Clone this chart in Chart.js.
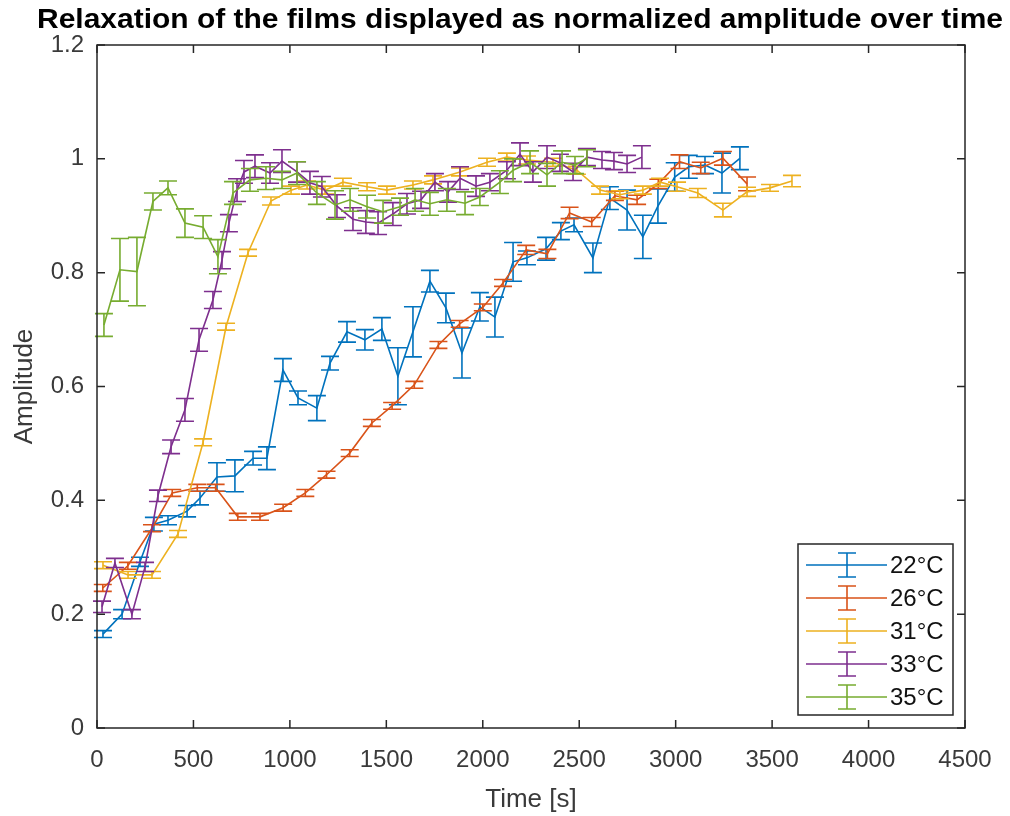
<!DOCTYPE html>
<html>
<head>
<meta charset="utf-8">
<title>Relaxation of the films</title>
<script src="https://cdn.jsdelivr.net/npm/chart.js@4.4.1/dist/chart.umd.min.js"></script>
<style>
    html, body { margin: 0; padding: 0; background: #fff; }
    #wrap { width: 1010px; height: 816px; }
</style>
</head>
<body>
<div id="wrap"><canvas id="relaxChart" width="1010" height="816"></canvas></div>
<script>
// -------------------------------------------------------------------------
// Data (time in s, normalized amplitude, error half-width)
// -------------------------------------------------------------------------
const seriesLabels = ['22°C', '26°C', '31°C', '33°C', '35°C'];
const seriesColors = ['#0072BD', '#D95319', '#EDB120', '#7E2F8E', '#77AC30'];

const t22 = [31, 130, 223, 295, 368, 467, 534, 622, 715, 809, 881, 964, 1042, 1140, 1208, 1296, 1389, 1477, 1560, 1638,
    1726, 1809, 1892, 1985, 2063, 2157, 2229, 2328, 2405, 2473, 2571, 2659, 2748, 2830, 2908, 2995, 3068, 3152, 3240, 3333];
const amp22 = [0.165, 0.200, 0.292, 0.358, 0.365, 0.381, 0.404, 0.441, 0.443, 0.474, 0.474, 0.629, 0.580, 0.562, 0.641, 0.696, 0.682, 0.701, 0.618, 0.696,
    0.785, 0.738, 0.659, 0.740, 0.722, 0.819, 0.826, 0.842, 0.873, 0.884, 0.826, 0.931, 0.910, 0.863, 0.917, 0.968, 0.986, 0.989, 0.975, 1.001];
const err22 = [0.006, 0.008, 0.008, 0.012, 0.008, 0.010, 0.012, 0.025, 0.028, 0.012, 0.020, 0.020, 0.012, 0.022, 0.012, 0.018, 0.018, 0.020, 0.050, 0.044,
    0.019, 0.026, 0.044, 0.025, 0.035, 0.034, 0.012, 0.020, 0.015, 0.012, 0.026, 0.020, 0.035, 0.038, 0.030, 0.025, 0.020, 0.015, 0.035, 0.020];

const t26 = [30, 160, 285, 390, 520, 615, 730, 845, 965, 1080, 1190, 1310, 1425, 1530, 1645, 1770, 1880, 2000, 2105, 2225,
    2335, 2450, 2565, 2685, 2800, 2910, 3020, 3130, 3245, 3370];
const amp26 = [0.246, 0.285, 0.351, 0.413, 0.422, 0.422, 0.371, 0.371, 0.387, 0.413, 0.445, 0.483, 0.536, 0.566, 0.603, 0.673, 0.710, 0.739, 0.782, 0.840,
    0.833, 0.905, 0.889, 0.935, 0.928, 0.956, 0.995, 0.984, 1.001, 0.956];
const err26 = [0.006, 0.006, 0.006, 0.006, 0.006, 0.006, 0.006, 0.006, 0.006, 0.006, 0.006, 0.006, 0.006, 0.006, 0.006, 0.006, 0.006, 0.006, 0.006, 0.008,
    0.008, 0.010, 0.008, 0.008, 0.008, 0.008, 0.012, 0.010, 0.012, 0.012];

const t31 = [31, 161, 285, 420, 550, 669, 783, 902, 1006, 1089, 1182, 1275, 1400, 1503, 1638, 1742, 1882, 2022, 2125, 2229,
    2364, 2488, 2608, 2711, 2830, 2919, 3007, 3115, 3245, 3370, 3489, 3603];
const amp31 = [0.286, 0.269, 0.269, 0.341, 0.502, 0.705, 0.835, 0.926, 0.945, 0.954, 0.945, 0.959, 0.951, 0.945, 0.954, 0.963, 0.977, 0.994, 1.003, 0.998,
    0.994, 0.980, 0.945, 0.937, 0.945, 0.959, 0.951, 0.940, 0.910, 0.942, 0.949, 0.961];
const err31 = [0.006, 0.006, 0.006, 0.006, 0.006, 0.006, 0.006, 0.007, 0.007, 0.007, 0.007, 0.007, 0.007, 0.007, 0.007, 0.007, 0.007, 0.007, 0.007, 0.007,
    0.007, 0.007, 0.007, 0.007, 0.007, 0.007, 0.008, 0.008, 0.012, 0.008, 0.006, 0.010];

const t33 = [26, 93, 181, 249, 316, 384, 456, 529, 601, 648, 684, 726, 762, 819, 897, 959, 1037, 1104, 1166, 1244,
    1327, 1394, 1457, 1534, 1607, 1680, 1752, 1820, 1882, 1965, 2037, 2125, 2193, 2260, 2333, 2400, 2468, 2540, 2618, 2680, 2748, 2825];
const amp33 = [0.213, 0.290, 0.200, 0.283, 0.408, 0.494, 0.559, 0.682, 0.752, 0.822, 0.887, 0.945, 0.977, 0.987, 0.975, 0.996, 0.977, 0.958, 0.951, 0.917,
    0.894, 0.889, 0.887, 0.903, 0.921, 0.928, 0.959, 0.942, 0.966, 0.952, 0.959, 0.980, 1.008, 0.977, 1.003, 0.993, 0.977, 1.003, 0.998, 0.996, 0.991, 1.003];
const err33 = [0.010, 0.008, 0.008, 0.008, 0.010, 0.012, 0.020, 0.020, 0.015, 0.015, 0.015, 0.020, 0.020, 0.020, 0.018, 0.020, 0.018, 0.020, 0.018, 0.020,
    0.020, 0.020, 0.020, 0.020, 0.018, 0.015, 0.015, 0.018, 0.020, 0.018, 0.015, 0.015, 0.020, 0.018, 0.020, 0.015, 0.015, 0.015, 0.015, 0.015, 0.015, 0.020];

const t35 = [36, 119, 207, 290, 368, 456, 550, 627, 705, 793, 876, 959, 1037, 1140, 1234, 1312, 1400, 1483, 1571, 1649,
    1726, 1814, 1908, 1985, 2089, 2157, 2245, 2333, 2411, 2478, 2540];
const amp35 = [0.708, 0.805, 0.802, 0.925, 0.949, 0.887, 0.880, 0.828, 0.940, 0.963, 0.966, 0.963, 0.975, 0.940, 0.919, 0.928, 0.916, 0.907, 0.916, 0.928,
    0.921, 0.928, 0.922, 0.933, 0.959, 0.980, 0.994, 0.972, 0.994, 0.989, 1.001];
const err35 = [0.020, 0.055, 0.060, 0.015, 0.012, 0.025, 0.020, 0.030, 0.020, 0.020, 0.020, 0.015, 0.020, 0.020, 0.025, 0.020, 0.020, 0.020, 0.015, 0.020,
    0.020, 0.020, 0.020, 0.015, 0.020, 0.020, 0.020, 0.020, 0.020, 0.015, 0.015];

const xTicks = [0, 500, 1000, 1500, 2000, 2500, 3000, 3500, 4000, 4500];
const xTickLabels = ['0', '500', '1000', '1500', '2000', '2500', '3000', '3500', '4000', '4500'];
const yTicks = [0, 0.2, 0.4, 0.6, 0.8, 1, 1.2];
const yTickLabels = ['0', '0.2', '0.4', '0.6', '0.8', '1', '1.2'];

const chartTitle = 'Relaxation of the films displayed as normalized amplitude over time';
const xLabel = 'Time [s]';
const yLabel = 'Amplitude';

// -------------------------------------------------------------------------
// Style
// -------------------------------------------------------------------------
const AXIS_COLOR = '#262626';
const TEXT_COLOR = '#3a3a3a';
const FONT = 'Liberation Sans, Arial, Helvetica, sans-serif';

const allT = [t22, t26, t31, t33, t35];
const allAmp = [amp22, amp26, amp31, amp33, amp35];
const allErr = [err22, err26, err31, err33, err35];

const datasets = seriesLabels.map((label, i) => ({
    label,
    data: allT[i].map((t, k) => ({ x: t, y: allAmp[i][k] })),
    errors: allErr[i],
    borderColor: seriesColors[i],
    borderWidth: 1.6,
    pointRadius: 0,
    tension: 0,
    fill: false,
    order: seriesLabels.length - i // later series on top, like MATLAB
}));

// -------------------------------------------------------------------------
// Plugins
// -------------------------------------------------------------------------
const errorBars = {
    id: 'errorBars',
    afterDatasetDraw(chart, args) {
        const ds = chart.data.datasets[args.index];
        const xs = chart.scales.x;
        const ys = chart.scales.y;
        const c = chart.ctx;
        const cap = 9;
        c.save();
        c.strokeStyle = ds.borderColor;
        c.lineWidth = 1.6;
        ds.data.forEach((p, k) => {
            const px = xs.getPixelForValue(p.x);
            const top = ys.getPixelForValue(p.y + ds.errors[k]);
            const bot = ys.getPixelForValue(p.y - ds.errors[k]);
            c.beginPath();
            c.moveTo(px, top); c.lineTo(px, bot);
            c.moveTo(px - cap, top); c.lineTo(px + cap, top);
            c.moveTo(px - cap, bot); c.lineTo(px + cap, bot);
            c.stroke();
        });
        c.restore();
    }
};

const axesBox = {
    id: 'axesBox',
    afterDraw(chart) {
        const { left, right, top, bottom } = chart.chartArea;
        const xs = chart.scales.x;
        const ys = chart.scales.y;
        const c = chart.ctx;
        const tl = 8;
        c.save();
        c.strokeStyle = AXIS_COLOR;
        c.lineWidth = 1.5;
        c.strokeRect(left, top, right - left, bottom - top);
        c.beginPath();
        xTicks.forEach(v => {
            const px = xs.getPixelForValue(v);
            c.moveTo(px, bottom); c.lineTo(px, bottom - tl);
            c.moveTo(px, top); c.lineTo(px, top + tl);
        });
        yTicks.forEach(v => {
            const py = ys.getPixelForValue(v);
            c.moveTo(left, py); c.lineTo(left + tl, py);
            c.moveTo(right, py); c.lineTo(right - tl, py);
        });
        c.stroke();

        // title, squeezed to the width of the MATLAB bold font
        c.font = 'bold 28px ' + FONT;
        c.fillStyle = '#000';
        c.textAlign = 'center';
        c.textBaseline = 'alphabetic';
        const w = c.measureText(chartTitle).width;
        const target = 966;
        c.translate(520, 28);
        c.scale(target / w, 1);
        c.fillText(chartTitle, 0, 0);
        c.restore();
    }
};

const errLegend = {
    id: 'errLegend',
    afterDraw(chart) {
        const c = chart.ctx;
        const box = { x: 798, y: 544, w: 155, h: 171 };
        c.save();
        c.fillStyle = '#fff';
        c.fillRect(box.x, box.y, box.w, box.h);
        c.strokeStyle = AXIS_COLOR;
        c.lineWidth = 1.5;
        c.strokeRect(box.x, box.y, box.w, box.h);
        c.font = '24px ' + FONT;
        c.textBaseline = 'middle';
        c.textAlign = 'left';
        chart.data.datasets.forEach((ds, i) => {
            const y = 565 + i * 33;
            c.strokeStyle = ds.borderColor;
            c.lineWidth = 1.6;
            c.beginPath();
            c.moveTo(806, y); c.lineTo(887, y);
            c.moveTo(847, y - 12); c.lineTo(847, y + 12);
            c.moveTo(838, y - 12); c.lineTo(856, y - 12);
            c.moveTo(838, y + 12); c.lineTo(856, y + 12);
            c.stroke();
            c.fillStyle = '#111';
            c.fillText(ds.label, 890, y + 1);
        });
        c.restore();
    }
};

// -------------------------------------------------------------------------
// Chart
// -------------------------------------------------------------------------
const ctx = document.getElementById('relaxChart');
new Chart(ctx, {
    type: 'line',
    data: { datasets },
    options: {
        responsive: false,
        animation: false,
        events: [],
        layout: { padding: { top: 45, right: 45, left: 0, bottom: 0 } },
        scales: {
            x: {
                type: 'linear',
                min: 0,
                max: 4500,
                afterBuildTicks: axis => { axis.ticks = xTicks.map(v => ({ value: v })); },
                afterFit: axis => { axis.height = 88; },
                grid: { display: false, drawTicks: false },
                border: { display: false },
                ticks: {
                    color: TEXT_COLOR, padding: 18, maxRotation: 0, font: { family: FONT, size: 24 },
                    callback: (v, i) => xTickLabels[i]
                },
                title: { display: true, text: xLabel, color: TEXT_COLOR, padding: { top: 0, bottom: 1 }, font: { family: FONT, size: 26 } }
            },
            y: {
                type: 'linear',
                min: 0,
                max: 1.2,
                afterBuildTicks: axis => { axis.ticks = yTicks.map(v => ({ value: v })); },
                afterFit: axis => { axis.width = 97; },
                grid: { display: false, drawTicks: false },
                border: { display: false },
                ticks: {
                    color: TEXT_COLOR, padding: 13, font: { family: FONT, size: 24 },
                    callback: (v, i) => yTickLabels[i]
                },
                title: { display: true, text: yLabel, color: TEXT_COLOR, padding: { top: 9, bottom: 0 }, font: { family: FONT, size: 26 } }
            }
        },
        plugins: {
            legend: { display: false },
            tooltip: { enabled: false },
            title: { display: false }
        }
    },
    plugins: [errorBars, axesBox, errLegend]
});
</script>
</body>
</html>
